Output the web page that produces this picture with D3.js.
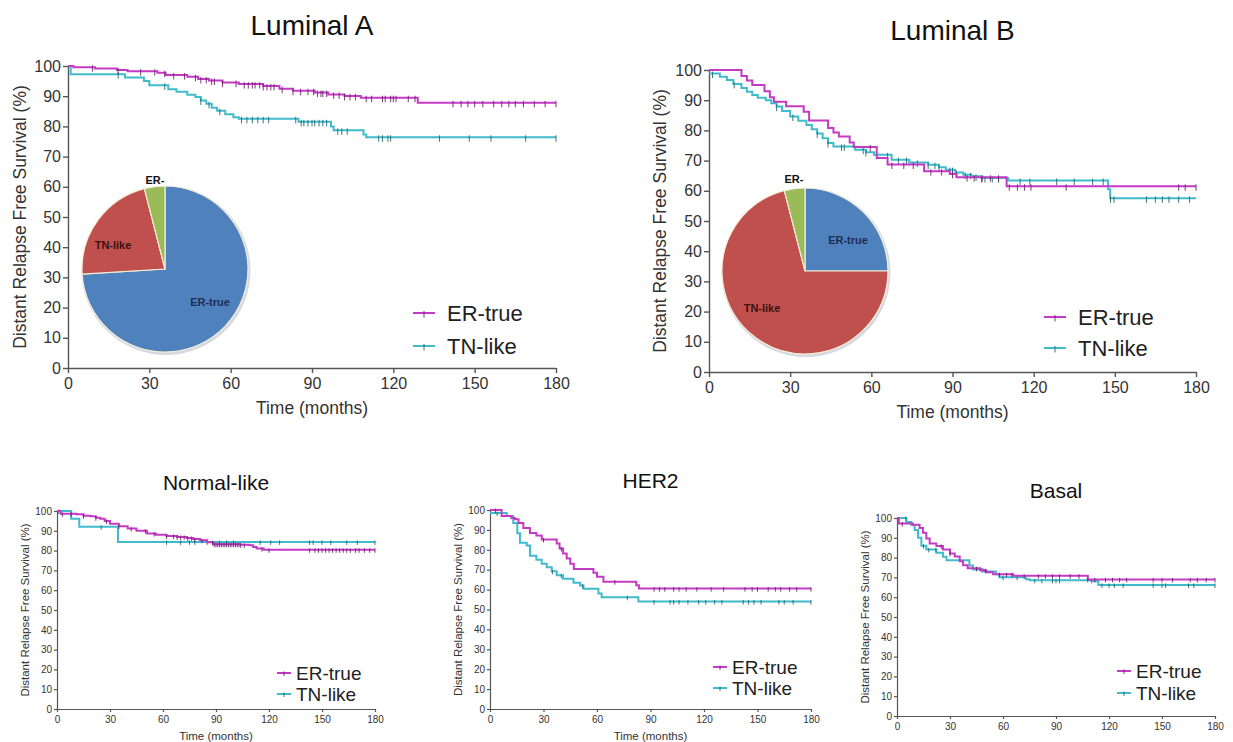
<!DOCTYPE html>
<meta charset="utf-8">
<head>
<style>
body { margin: 0; background: #fff; }
svg { display: block; }
text { font-family: "Liberation Sans", Arial, sans-serif; }
</style>
</head>
<body>
<div id="chart"></div>
<script src="https://d3js.org/d3.v7.min.js"></script>
<script>

// ---- data ----
var xTicks = [0, 30, 60, 90, 120, 150, 180];
var yTicks = [0, 10, 20, 30, 40, 50, 60, 70, 80, 90, 100];
var seriesNames = ["ER-true", "TN-like"];
var pieNames = ["ER-true", "TN-like", "ER-"];

// Luminal A
var lumA_erTrue = [[0,100],[2,99.6],[10,99.2],[18,98.7],[22,98.3],[33,97.8],[36,97],[44,96.4],[48,95.7],[52,95.2],[57,94.5],[63,94],[72,93.4],[78,92.5],[83,91.8],[91,91.2],[96,90.6],[102,90.1],[108,89.5],[129,87.8],[180,87.8]];
var lumA_erTrueCens = [9,18.5,26.8,32,35.7,39,43,47,49,51,53,54,57,62,65,66.5,68,69,70.7,72,73.4,74.8,76,79,83,85.8,88.5,90.6,92,93.3,94,95.4,98,100,102,104,106,110,112,116,117,119,120,121,125.5,128,142,145,147.5,150,153,157,160,162.6,165,168,172,176,180];
var lumA_tnLike = [[0,100],[1,97.3],[21,96.2],[28,95],[30,93.6],[37,92.3],[40,91.5],[44,90.5],[47,89.7],[49,88.6],[51,87.5],[53,86.2],[55,85.2],[58,84],[61,83],[63,82.5],[85,81.5],[97,80],[98,78.7],[109,77.3],[110,76.4],[180,76.4]];
var lumA_tnLikeCens = [18.5,35.7,49,52,56,64,66,68,70,72,74,84,86,87,88.5,90,91,92.6,94,95.4,99.5,101,103,114.6,116,118,119,137,148,156,168.8,180];
var lumA_pie = [74, 22, 4];

// Luminal B
var lumB_erTrue = [[0,100],[12,98],[14,96.5],[16,95],[20.5,93],[22.5,91],[24,89.5],[28.5,88],[35,86.2],[37,83.3],[44,80.8],[46,79.3],[48,78],[52,76],[53.5,74.5],[62,70.9],[66,68.7],[79.5,66.5],[89,65.6],[91.5,64.5],[110,61.5],[180,61.5]];
var lumB_erTrueCens = [59.6,67.6,72,75.5,82,86,90,95.4,98,101,104,107,111,114,116.6,119,132,173.6,176,180];
var lumB_tnLike = [[0,98.8],[4,97.8],[6.6,96.7],[9,95.4],[12,94],[14,92.8],[16,91.7],[18,90.8],[21,90],[23,89],[25,87.9],[27,86.4],[30,84.6],[33,83.2],[36,81.8],[38,80.4],[40,79],[42,77.4],[44,75.8],[46,74.7],[54,73.6],[58,72.8],[61,71.9],[67.5,70.3],[74,69.4],[81,68.6],[85,67.8],[87.5,67],[91,66.1],[94,65.3],[97,64.8],[100.7,64.2],[110.6,63.4],[147.5,60.5],[148.3,57.5],[180,57.5]];
var lumB_tnLikeCens = [1.3,9.3,25,31,40,44,49,50,57,58,62,66,70,73,77,81,83.5,85,89,90,91.4,94.7,96.7,98.7,100.7,102,104.7,107,115,118.6,128.5,135,141.8,145.7,148.4,149.7,161.7,165,167.6,170,173.6,177.6];
var lumB_pie = [25, 71, 4];

// Normal-like
var norm_erTrue = [[0,100],[2,98.6],[11,98.3],[15,97.6],[19,97.3],[22,96.6],[24.5,96.1],[27,95],[30,93.6],[35,92.3],[40,91.1],[45,90],[51,88.6],[56,88],[62,87.4],[68,86.9],[73.5,86.4],[77,85.8],[81,85.2],[85,84.2],[88.6,83.2],[104,82.9],[109,82.7],[111,81.8],[113,81],[117,80.4],[180,80.4]];
var norm_erTrueCens = [3,8,15,22,28,35,42,50,55,62,66,68,70,72,74,76,78,82,88,89,90,91,92,93,94,95,96,97,98,99,100,101,102,103,104,106,116,120,143,146,148,150,152,154,156,158,160,162,164,166,169,171,174,177,180];
var norm_tnLike = [[0,100],[8,96.1],[12.6,92],[34.5,84.4],[180,84.4]];
var norm_tnLikeCens = [1,25,62,70,75,78,85,92,96,100,115,121,126,143,145,150,155,164,170,180];

// HER2
var her2_erTrue = [[0,100],[6.5,97],[12,96],[14,95.3],[16,93.5],[18.7,91],[22.4,88.5],[26,87.2],[29,85.2],[37.4,83.2],[39,80.6],[41,78.2],[43,75.6],[45,73],[47,70.4],[58,68.5],[60,66.5],[63.6,64],[82,62.2],[83.5,60.5],[180,60.5]];
var her2_erTrueCens = [3,30,40,70,92,95,98,103,106,110,116,124,131,143,147,150,156,160,163,168,172,180];
var her2_tnLike = [[0,98.5],[9.4,97],[13,93.5],[15.3,88.3],[16.8,83.5],[20.6,82.2],[22.4,77],[26,75],[29,73],[31.8,71.2],[34.6,69.2],[37.4,67.2],[41,65.5],[46.8,63.4],[50.5,62],[52.4,60.4],[60.8,58],[62.6,56.2],[83.2,54],[180,54]];
var her2_tnLikeCens = [4,35,40,52,77,92,101,103,106,111,117,121,126,130,142,145,148,152,162,165,170,180];

// Basal
var basal_erTrue = [[0,100],[1,97.2],[9,96.6],[12.8,95],[14.7,92.5],[16.6,89.6],[18.5,87.1],[22.3,85.9],[26,84.1],[30,82.1],[32.7,80.6],[35.5,78.1],[37.4,76.1],[40,74.6],[47,73.6],[50.6,72.6],[54.4,71.6],[65.8,70.8],[108,69],[180,69]];
var basal_erTrueCens = [3,25,30,45,50,58,62,65,72,80,84,88,92,98,103,108,112,118,122,126,130,145,150,156,166,170,175,180];
var basal_tnLike = [[0,100],[5.3,98],[8.1,96.5],[10,94],[11.9,90],[13.8,86],[16.6,84.1],[22.3,82.5],[26,80.4],[28,78.6],[41,76],[43,74],[48.8,73],[56,71.6],[58,70.1],[73,69.1],[75,68.5],[111,68],[114,66.2],[180,66.2]];
var basal_tnLikeCens = [5,15,18,22,48,60,68,78,82,88,90,92,110,116,120,123,128,145,150,152,165,168,180];

// ---- styles ----
var lineColors = ["#c53ac5", "#3fbccb"];
var pieColors = ["#4f81bd", "#c0504d", "#9bbb59"];
var pieTextColors = ["#1c2f52", "#3a1212", "#111"];

var W = 1233, H = 742;
var svg = d3.select("#chart").append("svg").attr("width", W).attr("height", H);

function survAt(steps, t) {
  var v = steps[0][1];
  steps.forEach(function (d) { if (d[0] <= t) v = d[1]; });
  return v;
}

function drawPanel(p) {
  var x = d3.scaleLinear().domain([0, 180]).range([p.x0, p.x1]);
  var y = d3.scaleLinear().domain([0, 100]).range([p.yBot, p.yTop]);
  var g = svg.append("g");

  // title
  g.append("text")
    .attr("x", (p.x0 + p.x1) / 2).attr("y", p.titleY)
    .attr("text-anchor", "middle")
    .style("font-size", p.titleSize + "px").style("fill", "#111")
    .text(p.title);

  // pie inset
  if (p.pie) {
    var pie = d3.pie().sort(null).value(function (d) { return d; });
    var arc = d3.arc().innerRadius(0).outerRadius(p.pie.r);
    var pg = g.append("g").attr("transform", "translate(" + p.pie.cx + "," + p.pie.cy + ")");
    pg.append("circle").attr("cx", 1).attr("cy", 1.5).attr("r", p.pie.r + 1.5)
      .style("fill", "#d6d9e2");
    pg.selectAll("path").data(pie(p.pie.values)).enter().append("path")
      .attr("d", arc)
      .style("fill", function (d, i) { return pieColors[i]; })
      .style("stroke", "#f3eed8").style("stroke-width", 1.2);
    p.pie.labelPos.forEach(function (pos, i) {
      g.append("text").attr("x", pos[0]).attr("y", pos[1])
        .attr("text-anchor", "middle").attr("dominant-baseline", "central")
        .style("font-size", p.pieFont + "px").style("font-weight", "bold")
        .style("fill", pieTextColors[i])
        .text(pieNames[i]);
    });
  }

  // axes
  var ya = g.append("g").attr("transform", "translate(" + p.x0 + ",0)")
    .call(d3.axisLeft(y).tickValues(yTicks).tickSize(p.tickLen).tickSizeOuter(0).tickPadding(p.tickPad));
  var xa = g.append("g").attr("transform", "translate(0," + p.yBot + ")")
    .call(d3.axisBottom(x).tickValues(xTicks).tickSize(p.tickLen).tickSizeOuter(0).tickPadding(p.tickPadX));
  [ya, xa].forEach(function (a) {
    a.select(".domain").style("stroke", "#555").style("stroke-width", p.axisW);
    a.selectAll(".tick line").style("stroke", "#555").style("stroke-width", p.axisW);
    a.selectAll(".tick text").style("font-size", p.tickFont + "px").style("fill", "#333")
      .style("font-family", "'Liberation Sans', Arial, sans-serif");
  });

  // axis labels
  g.append("text")
    .attr("transform", "translate(" + p.yLabelX + "," + ((p.yTop + p.yBot) / 2) + ") rotate(-90)")
    .attr("text-anchor", "middle").attr("dominant-baseline", "central")
    .style("font-size", p.labelFont + "px").style("fill", "#333")
    .text("Distant Relapse Free Survival (%)");
  if (p.xLabelY) {
    g.append("text")
      .attr("x", (p.x0 + p.x1) / 2).attr("y", p.xLabelY)
      .attr("text-anchor", "middle")
      .style("font-size", p.labelFont + "px").style("fill", "#333")
      .text("Time (months)");
  }

  // curves: draw TN-like first, then ER-true on top
  var line = d3.line().curve(d3.curveStepAfter)
    .x(function (d) { return x(d[0]); }).y(function (d) { return y(d[1]); });
  [1, 0].forEach(function (k) {
    var steps = p.series[k], cens = p.cens[k];
    g.append("path").datum(steps).attr("d", line)
      .style("fill", "none").style("stroke", lineColors[k]).style("stroke-width", p.lineW);
    g.selectAll(null).data(cens).enter().append("line")
      .attr("x1", function (t) { return x(t); }).attr("x2", function (t) { return x(t); })
      .attr("y1", function (t) { return y(survAt(steps, t)) - p.censUp; })
      .attr("y2", function (t) { return y(survAt(steps, t)) + p.censDown; })
      .style("stroke", d3.color(lineColors[k]).darker(1.6)).style("stroke-width", 0.9);
  });

  // legend
  seriesNames.forEach(function (name, i) {
    var ly = p.legendY[i];
    g.append("line").attr("x1", p.legendX).attr("x2", p.legendX + p.legLen)
      .attr("y1", ly).attr("y2", ly)
      .style("stroke", lineColors[i]).style("stroke-width", p.lineW);
    g.append("line").attr("x1", p.legendX + p.legLen / 2).attr("x2", p.legendX + p.legLen / 2)
      .attr("y1", ly - p.censUp).attr("y2", ly + p.censDown)
      .style("stroke", d3.color(lineColors[i]).darker(1.6)).style("stroke-width", 0.9);
    g.append("text").attr("x", p.legendX + p.legTextDx).attr("y", ly)
      .attr("dominant-baseline", "central")
      .style("font-size", p.legendFont + "px").style("fill", "#222")
      .text(name);
  });
}

var big = { titleSize: 28, tickFont: 16, tickLen: 5, tickPad: 2, tickPadX: 5, axisW: 1.4,
            labelFont: 17.5, lineW: 2, censUp: 2, censDown: 4.5, legendFont: 22, legLen: 22, legTextDx: 34, pieFont: 11 };
var small = { titleSize: 21, tickFont: 10, tickLen: 3, tickPad: 2, tickPadX: 4, axisW: 1.2,
              labelFont: 11.5, lineW: 2, censUp: 1.5, censDown: 3, legendFont: 19, legLen: 14, legTextDx: 19 };

drawPanel(Object.assign({}, big, {
  title: "Luminal A", titleY: 35, x0: 68, x1: 556, yTop: 66, yBot: 368,
  xLabelY: 414, yLabelX: 20, legendX: 413, legendY: [313, 346],
  series: [lumA_erTrue, lumA_tnLike], cens: [lumA_erTrueCens, lumA_tnLikeCens],
  pie: { cx: 165, cy: 269, r: 83, values: lumA_pie, labelPos: [[210, 302], [113, 245], [155, 180]] }
}));
drawPanel(Object.assign({}, big, {
  title: "Luminal B", titleY: 40, x0: 709, x1: 1196, yTop: 70, yBot: 372,
  xLabelY: 418, yLabelX: 660, legendX: 1044, legendY: [317, 348],
  series: [lumB_erTrue, lumB_tnLike], cens: [lumB_erTrueCens, lumB_tnLikeCens],
  pie: { cx: 805, cy: 271, r: 83, values: lumB_pie, labelPos: [[848, 240], [762, 308], [794, 179]] }
}));
drawPanel(Object.assign({}, small, {
  title: "Normal-like", titleY: 490, x0: 57, x1: 375, yTop: 511, yBot: 709,
  xLabelY: 740, yLabelX: 25, legendX: 277, legendY: [673, 694],
  series: [norm_erTrue, norm_tnLike], cens: [norm_erTrueCens, norm_tnLikeCens]
}));
drawPanel(Object.assign({}, small, {
  title: "HER2", titleY: 488, x0: 490, x1: 811, yTop: 510, yBot: 709,
  xLabelY: 740, yLabelX: 458, legendX: 713, legendY: [667, 688],
  series: [her2_erTrue, her2_tnLike], cens: [her2_erTrueCens, her2_tnLikeCens]
}));
drawPanel(Object.assign({}, small, {
  title: "Basal", titleY: 498, x0: 897, x1: 1215, yTop: 518, yBot: 716,
  xLabelY: null, yLabelX: 865, legendX: 1117, legendY: [671, 693],
  series: [basal_erTrue, basal_tnLike], cens: [basal_erTrueCens, basal_tnLikeCens]
}));

</script>
</body>
